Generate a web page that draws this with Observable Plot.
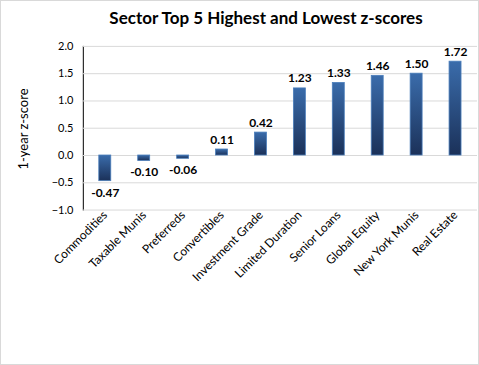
<!DOCTYPE html>
<html><head><meta charset="utf-8">
<script src="https://cdn.jsdelivr.net/npm/d3@7"></script>
<script src="https://cdn.jsdelivr.net/npm/@observablehq/plot@0.6"></script>
<style>
body{margin:0;background:#fff;}
#wrap{position:relative;width:479px;height:365px;box-sizing:border-box;border:1px solid #d9d9d9;font-family:Lato,"Open Sans",sans-serif;overflow:hidden;}
#title{position:absolute;top:6px;left:0;width:530px;text-align:center;font-weight:bold;font-size:17px;color:#000;}
#ylab{position:absolute;left:22px;top:128px;transform:translate(-50%,-50%) rotate(-90deg);font-size:13px;white-space:nowrap;color:#000;}
#chart{position:absolute;left:-1px;top:-1px;}
</style></head>
<body><div id="wrap"><div id="title">Sector Top 5 Highest and Lowest z-scores</div><div id="ylab">1-year z-score</div><div id="chart"></div></div>
<script>
const categories = ["Commodities","Taxable Munis","Preferreds","Convertibles","Investment Grade","Limited Duration","Senior Loans","Global Equity","New York Munis","Real Estate"];
const values = [-0.47,-0.10,-0.06,0.11,0.42,1.23,1.33,1.46,1.50,1.72];
const yTicks = [-1.0,-0.5,0.0,0.5,1.0,1.5,2.0];

const data = categories.map((c,i)=>({category:c, value:values[i]}));

const chart = Plot.plot({
  width: 479, height: 365,
  marginTop: 46, marginBottom: 155, marginLeft: 83, marginRight: 1,
  style: {fontFamily: "Lato, 'Open Sans', sans-serif", fontSize: "11px", color: "#000", background: "transparent"},
  x: {domain: categories, paddingInner: 0.68, paddingOuter: 0.33, label: null, tickSize: 0, tickPadding: 3, tickRotate: -45},
  y: {domain: [-1, 2], ticks: yTicks, tickFormat: d3.format(".1f"), label: null, tickSize: 0, tickPadding: 10, line: true},
  marks: [
    Plot.ruleY(yTicks, {stroke: "#d9d9d9", strokeWidth: 1}),
    Plot.barY(data, {x: "category", y: "value", fill: "url(#barGrad)", stroke: "#4a7ebb", strokeWidth: 0.8}),
    Plot.text(data.filter(d=>d.value>=0), {x: "category", y: "value", text: d=>d.value.toFixed(2), lineAnchor: "bottom", dy: -6, fontWeight: "bold", fontSize: 12}),
    Plot.text(data.filter(d=>d.value<0), {x: "category", y: "value", text: d=>d.value.toFixed(2), lineAnchor: "top", dy: 7, fontWeight: "bold", fontSize: 12})
  ]
});
const svg = d3.select(chart);
svg.selectAll('[aria-label^="x-axis"] text').attr("font-size", 12);
const defs = svg.insert("defs", ":first-child");
const g = defs.append("linearGradient").attr("id","barGrad").attr("x1",0).attr("y1",0).attr("x2",0).attr("y2",1);
g.append("stop").attr("offset","0%").attr("stop-color","#3a6cab");
g.append("stop").attr("offset","100%").attr("stop-color","#1b3159");
document.getElementById("chart").appendChild(chart);
</script>
</body></html>
